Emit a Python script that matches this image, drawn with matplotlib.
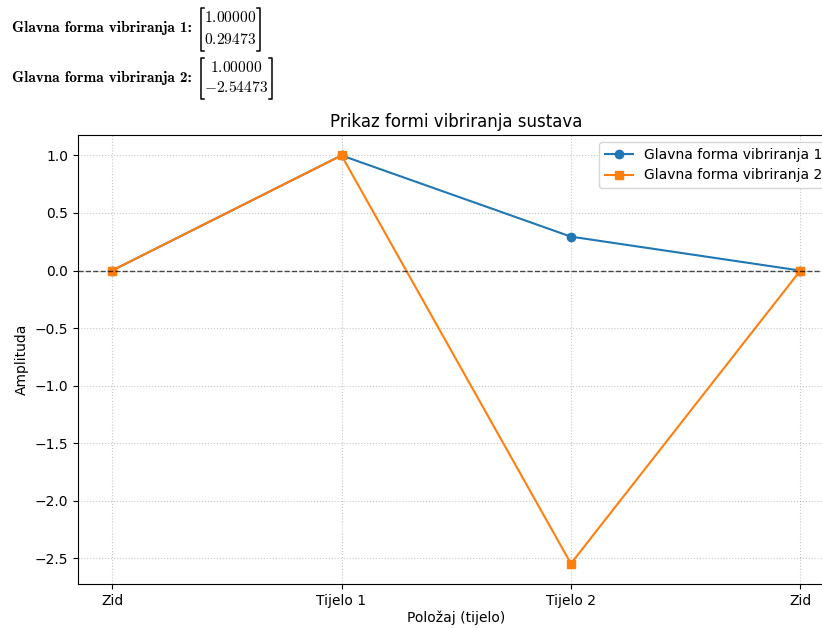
import matplotlib
matplotlib.use("Agg")
import matplotlib.pyplot as plt
from matplotlib.lines import Line2D

# mode shapes (wall - body 1 - body 2 - wall)
positions = [0, 1, 2, 3]
tick_labels = ["Zid", "Tijelo 1", "Tijelo 2", "Zid"]
mode1 = [0.0, 1.00000, 0.29473, 0.0]
mode2 = [0.0, 1.00000, -2.54473, 0.0]
mode_labels = ["Glavna forma vibriranja 1", "Glavna forma vibriranja 2"]
vectors = [("1.00000", "0.29473"), ("1.00000", "-2.54473")]

plt.rcParams["mathtext.fontset"] = "cm"

W, H = 822, 628
fig = plt.figure(figsize=(W / 100, H / 100), dpi=100)


def px(x, y):
    return x / W, 1 - y / H


def column_vector(entries, x0, x1, ytop, ybot, rows_y):
    # bracketed column like a printed numpy/sympy matrix
    arm = 3
    for xs in ([x0 + arm, x0, x0, x0 + arm], [x1 - arm, x1, x1, x1 - arm]):
        pts = [px(x, y) for x, y in zip(xs, [ytop, ytop, ybot, ybot])]
        fig.add_artist(Line2D([p[0] for p in pts], [p[1] for p in pts],
                              transform=fig.transFigure, color="black", lw=1.1))
    xc = (x0 + x1) / 2
    for val, yr in zip(entries, rows_y):
        val = val.replace("-", "{-}")
        fx, fy = px(xc, yr)
        fig.text(fx, fy, r"$\mathbf{%s}$" % val, fontsize=11.2,
                 ha="center", va="center")


# printed eigenvectors above the plot
label_y = [28, 78]
brackets = [(201, 260, 8, 51, (17, 39)), (201, 272, 58, 99, (68, 87))]
for i, vec in enumerate(vectors):
    fx, fy = px(12, label_y[i])
    fig.text(fx, fy, "Glavna forma vibriranja %d:" % (i + 1),
             family="cmb10", fontsize=11, va="center", ha="left")
    x0, x1, yt, yb, rows = brackets[i]
    column_vector(vec, x0, x1, yt, yb, rows)

ax = fig.add_axes([0.0945, 0.0701, 0.921, 0.7149])
ax.plot(positions, mode1, marker="o", label=mode_labels[0])
ax.plot(positions, mode2, marker="s", label=mode_labels[1])
ax.axhline(0, color="black", linestyle="--", linewidth=1, alpha=0.7)

ax.set_xticks(positions)
ax.set_xticklabels(tick_labels)
ax.set_title("Prikaz formi vibriranja sustava")
ax.set_xlabel("Položaj (tijelo)", labelpad=2)
ax.set_ylabel("Amplituda")
ax.grid(True, linestyle=":", alpha=0.7)
ax.legend(loc="upper right")

fig.savefig("out.png", dpi=100)
